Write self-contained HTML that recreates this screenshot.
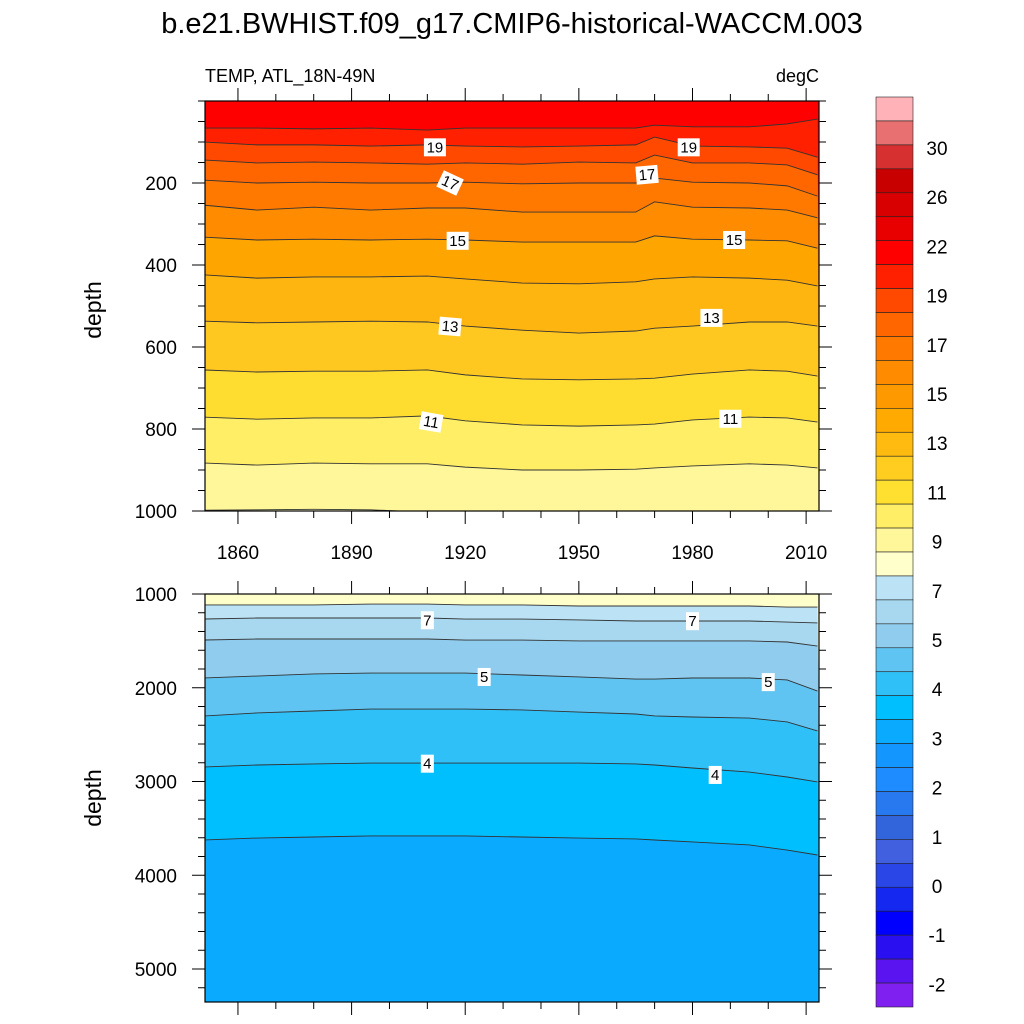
<!DOCTYPE html>
<html><head><meta charset="utf-8"><style>
body{margin:0;background:#fff;}
svg{display:block;font-family:"Liberation Sans",sans-serif;}
</style></head><body>
<svg id="c" width="1024" height="1024" viewBox="0 0 1024 1024">
<text x="512" y="33" text-anchor="middle" font-size="29">b.e21.BWHIST.f09_g17.CMIP6-historical-WACCM.003</text>
<text x="205" y="82" font-size="18">TEMP, ATL_18N-49N</text>
<text x="819" y="82" font-size="18" text-anchor="end">degC</text>
<text transform="translate(101,310) rotate(-90)" text-anchor="middle" font-size="23">depth</text>
<text transform="translate(101,798) rotate(-90)" text-anchor="middle" font-size="23">depth</text>
<g id="top"></g>
<g id="bot"></g>
<g id="cbar"></g>
</svg>
<script>
const years=[1851,1865,1880,1895,1910,1920,1935,1950,1965,1970,1980,1995,2005,2013];
const topLevels=[20,19,18,17,16,15,14,13,12,11,10,9];
const topDepths=[
[66,66,68,66,71,66,66,66,66,59,63,63,56,44],
[100,107,107,110,107,110,112,110,107,88,110,112,115,137],
[144,151,149,151,154,151,154,149,151,132,151,151,156,180],
[193,200,198,200,200,198,202,200,200,188,198,200,207,232],
[254,266,259,266,261,261,271,271,271,246,259,261,266,285],
[332,339,337,339,337,339,344,344,344,329,337,339,341,359],
[424,432,429,429,427,434,444,446,441,434,429,432,437,451],
[537,541,539,537,539,549,559,566,561,554,549,539,539,549],
[656,661,659,659,656,668,678,680,678,676,666,656,659,671],
[771,776,773,773,768,780,790,793,790,788,778,771,773,783],
[883,888,883,885,885,893,900,900,898,895,890,885,888,895],
[998,997,996,997,1003,1010,1010,1010,1010,1010,1010,1010,1010,1010]];
const botLevels=[8,7,6,5,4.5,4,3.5];
const botDepths=[
[1117,1117,1117,1107,1107,1117,1117,1128,1128,1128,1128,1128,1139,1139],
[1267,1256,1256,1256,1256,1267,1267,1277,1288,1288,1288,1288,1299,1309],
[1491,1480,1480,1480,1480,1491,1491,1501,1501,1501,1501,1501,1512,1555],
[1896,1875,1853,1843,1843,1843,1864,1885,1907,1907,1896,1896,1917,2035],
[2301,2269,2248,2227,2227,2227,2237,2259,2280,2301,2312,2323,2365,2461],
[2845,2824,2813,2803,2803,2803,2803,2803,2813,2824,2856,2899,2952,3005],
[3624,3603,3592,3581,3581,3581,3592,3603,3613,3624,3645,3677,3731,3784]];
const cbLabels=["30","26","22","19","17","15","13","11","9","7","5","4","3","2","1","0","-1","-2"];
const cbColors=["#FFB3B8","#E87070","#D73030","#C80000","#D80000","#E80000","#FF0000","#FF2000","#FF4800","#FF6600","#FF7800","#FF8C00","#FF9900","#FFAA00","#FFBB10","#FFCC20","#FFE030","#FFEE66","#FFF799","#FFFFCC","#BBE3F5","#A8D8F0","#8FCCEE","#60C4F2","#30C0F8","#00BFFF","#0AAAFF","#1496FF","#1E8CFF","#2878F0","#3264DC","#4060E0","#2A46E6","#1428F0","#0000FF","#2A10F0","#5A14F0","#8020F0"];
const topBandColors=["#FF0000","#FF2000","#FF4800","#FF6600","#FF7800","#FF8C00","#FFA500","#FFB510","#FFC820","#FFDD30","#FFEE66","#FFF799","#FFFFCC"];
const botBandColors=["#FFFFCC","#BBE3F5","#A8D8F0","#8FCCEE","#60C4F2","#30C0F8","#00BFFF","#0AAAFF"];
const topLabels=[[1912,113,"19",0],[1979,113,"19",0],[1916,200,"17",25],[1968,180,"17",-5],[1918,341,"15",0],[1991,339,"15",0],[1916,550,"13",5],[1985,529,"13",0],[1911,783,"11",10],[1990,775,"11",0]];
const botLabels=[[1910,1280,"7"],[1980,1290,"7"],[1925,1885,"5"],[2000,1940,"5"],[1910,2810,"4"],[1986,2930,"4"]];
const NS="http://www.w3.org/2000/svg";
const X0=205,X1=819,Y0=1851.3,Y1=2013.4;
function xs(y){return X0+(y-Y0)/(Y1-Y0)*(X1-X0);}
function mk(tag,attrs,parent){const e=document.createElementNS(NS,tag);for(const k in attrs)e.setAttribute(k,attrs[k]);parent.appendChild(e);return e;}
function panel(g,id,top,bottom,dmin,dmax,levels,depths,bands,labels,majors,minorStep,showX){
  const ys=d=>top+(d-dmin)/(dmax-dmin)*(bottom-top);
  const cp=mk('clipPath',{id:id+'clip'},g);mk('rect',{x:X0,y:top,width:X1-X0,height:bottom-top},cp);
  const fg=mk('g',{'clip-path':'url(#'+id+'clip)'},g);
  const bg=mk('rect',{x:X0,y:top,width:X1-X0,height:bottom-top,fill:bands[0]},fg);
  
  
  levels.forEach((lv,i)=>{
    const pts=years.map((yr,j)=>xs(yr)+','+ys(depths[i][j]));
    const p=mk('polygon',{points:pts.join(' ')+' '+(X1+5)+','+(bottom+5)+' '+(X0-5)+','+(bottom+5),fill:bands[i+1]},fg);
    
    
    const l=mk('polyline',{points:pts.join(' '),fill:'none',stroke:'#333','stroke-width':0.9},fg);
    
    
  });
  labels.forEach(a=>{
    const t=mk('g',{transform:'translate('+xs(a[0])+','+ys(a[1])+') rotate('+(a[3]||0)+')'},g);
    
    
    const w=a[2].length*9+4;
    mk('rect',{x:-w/2,y:-9,width:w,height:18,fill:'#fff'},t);
    const tx=mk('text',{x:0,y:5,'text-anchor':'middle','font-size':15},t);tx.textContent=a[2];
  });
  const fr=mk('rect',{x:X0,y:top,width:X1-X0,height:bottom-top,fill:'none',stroke:'#000','stroke-width':1.2},g);
  
  
  for(let d=Math.ceil(dmin/minorStep)*minorStep;d<=dmax;d+=minorStep){
    const y=ys(d);const maj=majors.includes(d);const L=maj?13:7;
    mk('line',{x1:X0-L,x2:X0,y1:y,y2:y,stroke:'#000'},g);
    mk('line',{x1:X1,x2:X1+L,y1:y,y2:y,stroke:'#000'},g);
    if(maj){const t=mk('text',{x:177,y:y+7,'text-anchor':'end','font-size':19},g);t.textContent=d;
      
      }
  }
  for(let yr=1860;yr<=2010;yr+=10){
    const x=xs(yr);const maj=(yr-1860)%30===0;const L=maj?13:7;
    mk('line',{x1:x,x2:x,y1:top-L,y2:top,stroke:'#000'},g);
    mk('line',{x1:x,x2:x,y1:bottom,y2:bottom+L,stroke:'#000'},g);
    if(maj&&showX){const t=mk('text',{x:x,y:bottom+48,'text-anchor':'middle','font-size':19},g);t.textContent=yr;
      
      }
  }
}
panel(document.getElementById('top'),'top',101,511,0,1000,topLevels,topDepths,topBandColors,topLabels,[200,400,600,800,1000],50,true);
panel(document.getElementById('bot'),'bottom',594,1002,1000,5352,botLevels,botDepths,botBandColors,botLabels,[1000,2000,3000,4000,5000],200,false);
const cb=document.getElementById('cbar');
const cbTop=97,cbBot=1007,bh=(cbBot-cbTop)/cbColors.length;
cbColors.forEach((c,i)=>{
  const r=mk('rect',{x:876,y:cbTop+i*bh,width:37,height:bh,fill:c,stroke:'#222','stroke-width':0.6},cb);
  
  
});
cbLabels.forEach((s,i)=>{
  const t=mk('text',{x:937,y:148+i*49.2+7,'text-anchor':'middle','font-size':19},cb);t.textContent=s;
  
  
});
</script>
</body></html>
